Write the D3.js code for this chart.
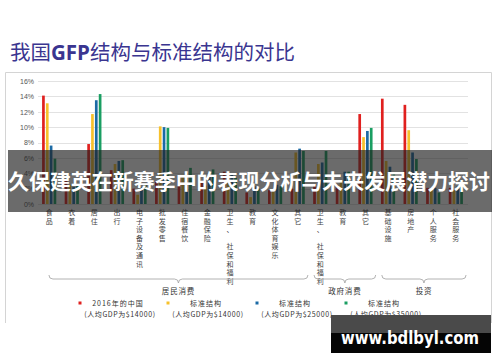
<!doctype html>
<html>
<head>
<meta charset="utf-8">
<title>我国GFP结构与标准结构的对比</title>
<script src="https://d3js.org/d3.v7.min.js"></script>
<style>
  body { margin: 0; background: #fff; }
  svg { display: block; font-family: "Noto Sans CJK SC", "Noto Sans", sans-serif; }
</style>
</head>
<body>
<svg id="chart" width="500" height="362"></svg>
<script>
// categories along the x axis
var categories = ["食品", "衣着", "居住", "出行", "电子设备及通讯", "批发零售", "住宿餐饮", "金融保险",
  "卫生、 社保和福利", "教育", "文化体育娱乐", "其它",
  "卫生、 社保和福利", "教育", "其它",
  "基础设施", "房地产", "个人服务", "社会服务"];

// brace groups: label, first index, last index
var groups = [["居民消费", 0, 11], ["政府消费", 12, 14], ["投资", 15, 18]];

// series values (%)
var china2016 = [14.1, 3.0, 7.8, 4.4, 2.0, 3.0, 3.2, 2.8, 4.2, 1.5, 1.8, 2.0, 2.5, 2.5, 11.7, 13.7, 12.9, 2.1, 2.1];
var std14000  = [13.1, 2.5, 11.7, 5.2, 1.2, 10.1, 3.8, 2.4, 3.0, 0.9, 1.6, 6.7, 5.2, 3.0, 8.7, 5.6, 9.6, 1.8, 1.8];
var std25000  = [7.6, 2.2, 13.5, 5.6, 2.2, 10.0, 4.0, 3.6, 3.8, 2.3, 2.5, 7.2, 5.4, 4.2, 9.5, 4.85, 6.7, 2.1, 2.3];
var std35000  = [5.9, 2.4, 14.3, 5.7, 2.6, 9.9, 4.7, 4.5, 3.4, 2.0, 2.3, 6.9, 6.9, 4.2, 9.9, 4.1, 5.85, 1.5, 2.6];

var seriesNames = ["2016年的中国", "标准结构", "标准结构", "标准结构"];
var seriesNotes = ["(人均GDP为$14000)", "(人均GDP为$14000)", "(人均GDP为$25000)", "(人均GDP为$35000)"];
var seriesColors = ["#e0201f", "#f7c12b", "#1b6aa5", "#1a9e62"];
var yTicks = [0, 2, 4, 6, 8, 10, 12, 14, 16];

var series = [china2016, std14000, std25000, std35000];

var svg = d3.select("#chart");

// title
var title = svg.append("text")
  .attr("x", 10).attr("y", 60)
  .style("font-size", "20.5px")
  .style("fill", "#3a3590");
title.append("tspan").text("我国");
title.append("tspan").style("font-weight", "bold").style("font-family", "'Open Sans', sans-serif").text("GFP");
title.append("tspan").text("结构与标准结构的对比");

// frame
svg.append("path")
  .attr("d", "M5.5,323 L5.5,72.5 L491.5,72.5 L491.5,323")
  .attr("fill", "none")
  .attr("stroke", "#d4d4d4");

var x = d3.scaleBand()
  .domain(d3.range(categories.length))
  .range([38, 467])
  .paddingInner(0.27)
  .paddingOuter(0.13);

var xs = d3.scaleBand()
  .domain(d3.range(series.length))
  .range([0, x.bandwidth()])
  .padding(0.3);

var y = d3.scaleLinear().domain([0, 16]).range([204, 81]);

// grid
svg.append("g").selectAll("line")
  .data(yTicks)
  .join("line")
  .attr("x1", 38).attr("x2", 468)
  .attr("y1", function(d) { return Math.round(y(d)) + 0.5; })
  .attr("y2", function(d) { return Math.round(y(d)) + 0.5; })
  .attr("stroke", "#e2e2e2");

var yAxis = svg.append("g")
  .attr("transform", "translate(36,0)")
  .call(d3.axisLeft(y).tickValues(yTicks).tickSize(0).tickPadding(2)
    .tickFormat(function(d) { return d + "%"; }));
yAxis.select(".domain").remove();
yAxis.selectAll("text").style("font-size", "7px").style("fill", "#555")
  .style("font-family", "'Liberation Sans', sans-serif");

// bars
series.forEach(function(vals, si) {
  svg.append("g").selectAll("rect")
    .data(vals)
    .join("rect")
    .attr("x", function(d, i) { return x(i) + xs(si); })
    .attr("width", xs.bandwidth())
    .attr("y", function(d) { return y(d); })
    .attr("height", function(d) { return y(0) - y(d); })
    .attr("fill", seriesColors[si]);
});

// vertical category labels, one character per line
categories.forEach(function(d, i) {
  var cx = x(i) + x.bandwidth() / 2;
  svg.append("g").selectAll("text")
    .data(Array.from(d))
    .join("text")
    .attr("x", cx)
    .attr("y", function(ch, k) { return 215 + k * 8.6; })
    .attr("text-anchor", "middle")
    .style("font-size", "7px")
    .style("fill", "#444")
    .text(function(ch) { return ch; });
});

// braces
groups.forEach(function(g, gi) {
  var x0 = x(g[1]) + (gi === 0 ? 8 : 2);
  var x1 = x(g[2]) + x.bandwidth() + 2;
  var xm = (x0 + x1) / 2;
  var top = 275, ln = 279, tip = 283;
  svg.append("path")
    .attr("d", "M" + x0 + "," + top + " Q" + x0 + "," + ln + " " + (x0 + 4) + "," + ln +
      " L" + (xm - 4) + "," + ln + " Q" + xm + "," + ln + " " + xm + "," + tip +
      " Q" + xm + "," + ln + " " + (xm + 4) + "," + ln +
      " L" + (x1 - 4) + "," + ln + " Q" + x1 + "," + ln + " " + x1 + "," + top)
    .attr("fill", "none")
    .attr("stroke", "#a0a0a0")
    .attr("stroke-width", 0.8);
  svg.append("text")
    .attr("x", xm).attr("y", 294)
    .attr("text-anchor", "middle")
    .style("font-size", "7.5px")
    .style("letter-spacing", "0.8px")
    .style("fill", "#333")
    .text(g[0]);
});

// legend
var legendX = [80, 168, 257, 346];
seriesNames.forEach(function(name, i) {
  var lx = legendX[i];
  svg.append("rect")
    .attr("x", lx - 1.5).attr("y", 301.5)
    .attr("width", 3).attr("height", 3)
    .attr("fill", seriesColors[i]);
  svg.append("text")
    .attr("x", lx + 38).attr("y", 306)
    .attr("text-anchor", "middle")
    .style("font-size", "7px")
    .style("letter-spacing", "1px")
    .style("fill", "#333")
    .text(name);
  svg.append("text")
    .attr("x", lx + 40).attr("y", 317)
    .attr("text-anchor", "middle")
    .style("font-size", "7px")
    .style("letter-spacing", "0.6px")
    .style("fill", "#333")
    .text(seriesNotes[i]);
});

// overlay banner
svg.append("rect")
  .attr("x", 8).attr("y", 150)
  .attr("width", 484).attr("height", 62)
  .attr("fill", "rgba(30,30,30,0.66)");
svg.append("text")
  .attr("x", 8).attr("y", 189)
  .attr("textLength", 482)
  .attr("lengthAdjust", "spacingAndGlyphs")
  .style("font-size", "21px")
  .style("font-weight", "bold")
  .style("fill", "#fff")
  .text("久保建英在新赛季中的表现分析与未来发展潜力探讨");

// watermark
svg.append("rect")
  .attr("x", 331).attr("y", 315).attr("width", 160).attr("height", 19)
  .attr("fill", "#4a4a4a");
svg.append("rect")
  .attr("x", 331).attr("y", 333).attr("width", 160).attr("height", 20)
  .attr("fill", "#050505");
svg.append("text")
  .attr("x", 341).attr("y", 344)
  .attr("textLength", 138)
  .attr("lengthAdjust", "spacingAndGlyphs")
  .style("font-family", "'DejaVu Sans', sans-serif")
  .style("font-size", "18px")
  .style("font-weight", "bold")
  .style("fill", "#fff")
  .text("www.bdlbyl.com");
</script>
</body>
</html>
